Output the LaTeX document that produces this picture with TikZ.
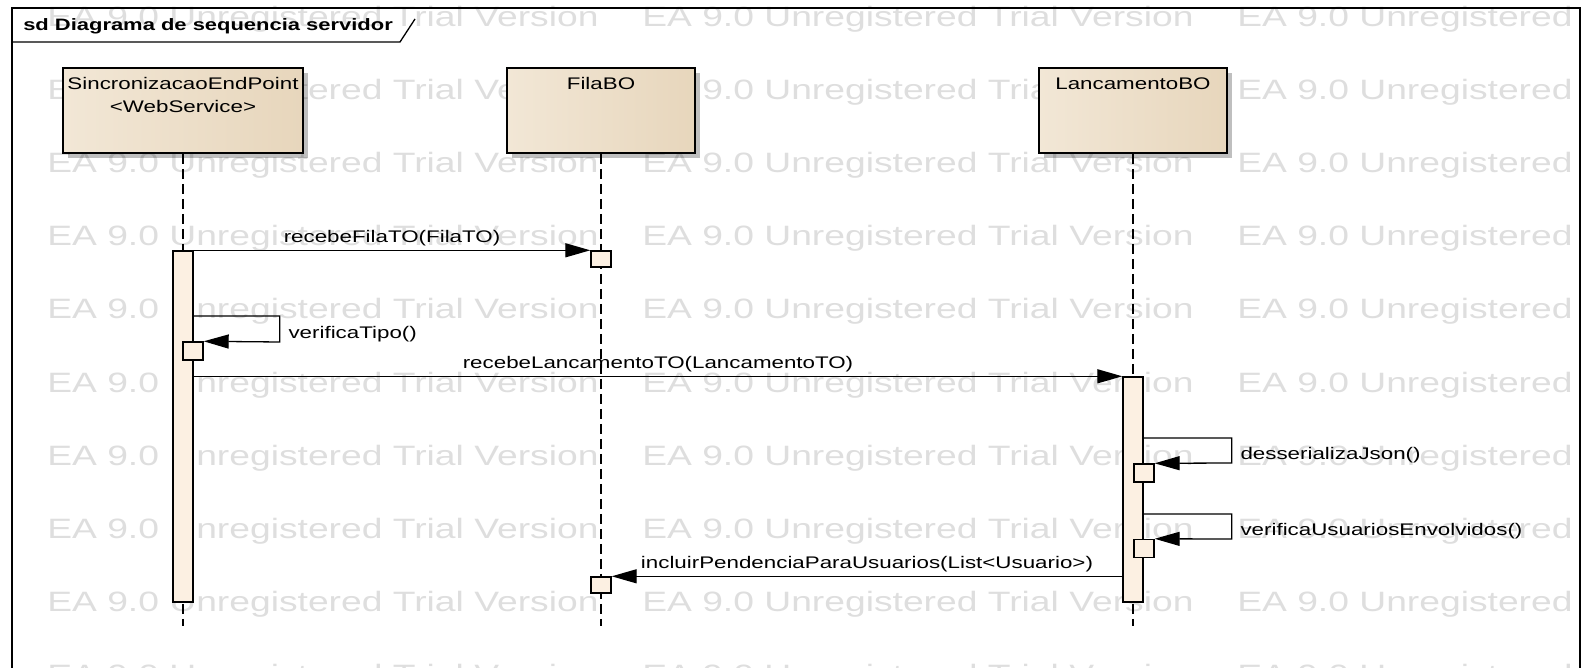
\documentclass[tikz,border=0pt]{standalone}
\usepackage{fontspec}
\setmainfont{Liberation Sans}
\usetikzlibrary{arrows.meta,positioning,shadows}
\definecolor{headL}{HTML}{F2E7D6}
\definecolor{headM}{HTML}{FCF6EE}
\definecolor{headR}{HTML}{E7D6BC}
\definecolor{actfill}{HTML}{FCF0E2}
\definecolor{trial}{HTML}{DEDEDE}
\begin{document}
\begin{tikzpicture}[x=1pt,y=-1pt,
  txt/.style={inner sep=0pt,xscale=1.33,font=\fontsize{16.8}{23}\selectfont},
  ttl/.style={inner sep=0pt,xscale=1.33,font=\fontsize{16.5}{18}\selectfont\bfseries},
  wmark/.style={inner sep=0pt,xscale=1.33,font=\fontsize{28}{30}\selectfont,text=trial},
  head/.style={draw,line width=1.8pt,minimum height=85pt,inner sep=0pt,
    left color=headL,middle color=headM,right color=headR,
    drop shadow={shadow xshift=5pt,shadow yshift=-5pt,opacity=0.25,fill=black}},
  bar/.style={draw,line width=1.4pt,fill=actfill,minimum width=20pt,inner sep=0pt},
  lifeline/.style={line width=1.3pt,dash pattern=on 10pt off 5pt},
  msg/.style={line width=1.3pt,-{Triangle[length=25pt,width=14pt]}},
  selflbl/.style={txt,anchor=base west,xshift=6pt,yshift=4pt}]
\useasboundingbox (0,0) rectangle (1588,668);
% watermark
\begin{scope}
\clip (0,0) rectangle (1581,668);
\foreach \r in {0,...,9}
  \foreach \c in {47,642,1237}
    \node[wmark,anchor=base west] at (\c,27+73*\r) {EA 9.0 Unregistered Trial Version};
\end{scope}
% frame
\draw[line width=1.3pt] (12,668) -- (12,8) -- (1580,8) -- (1580,668);
\draw[line width=1.3pt] (12,42) -- (400,42) -- (415,19);
\node[ttl,anchor=base west] (title) at (23,31) {sd Diagrama de sequencia servidor};
% lifeline heads
\node[head,minimum width=240pt] (sinc) at (183,110.5) {};
\node[txt,align=center,below=10pt of sinc.north] (sinctxt) {SincronizacaoEndPoint\\<WebService>};
\node[head,minimum width=188pt] (fila) at (601,110.5) {};
\node[txt,below=10pt of fila.north] (filatxt) {FilaBO};
\node[head,minimum width=188pt] (lanc) at (1133,110.5) {};
\node[txt,below=10pt of lanc.north] (lanctxt) {LancamentoBO};
\coordinate (sincend) at (183,626);
\coordinate (filaend) at (601,626);
\coordinate (lancend) at (1133,626);
\draw[lifeline] (sinc) -- (sincend);
\draw[lifeline] (fila) -- (filaend);
\draw[lifeline] (lanc) -- (lancend);
% activations
\node[bar,minimum height=351pt] (sincbar) at (183,426.5) {};
\node[bar,minimum height=18pt] (sincself) at (193,351) {};
\node[bar,minimum height=16pt] (filaA) at (601,259) {};
\node[bar,minimum height=16pt] (filaB) at (601,585) {};
\node[bar,minimum height=225pt] (lancbar) at (1133,489.5) {};
\node[bar,minimum height=18pt] (lancselfA) at (1144,473) {};
\node[bar,minimum height=18pt] (lancselfB) at (1144,548.5) {};
% messages
\draw[msg] (sincbar.north east) -- node[txt,above=4pt] {recebeFilaTO(FilaTO)} (filaA.north west);
\coordinate (tipoin) at (sincbar.east |- 0,316);
\draw[msg] (tipoin) -- ++(86,0) -- ++(0,26) node[selflbl] {verificaTipo()} -- (sincself.north east);
\draw[msg] (sincbar.east |- lancbar.north) -- node[txt,above=4pt] {recebeLancamentoTO(LancamentoTO)} (lancbar.north west);
\coordinate (jsonin) at (lancbar.east |- 0,438);
\draw[msg] (jsonin) -- ++(88,0) -- ++(0,25) node[selflbl] {desserializaJson()} -- (lancselfA.north east);
\coordinate (usrin) at (lancbar.east |- 0,514);
\draw[msg] (usrin) -- ++(88,0) -- ++(0,25) node[selflbl] {verificaUsuariosEnvolvidos()} -- (lancselfB.north east);
\draw[msg] (lancbar.west |- filaB.north) -- node[txt,above=4pt] {incluirPendenciaParaUsuarios(List<Usuario>)} (filaB.north east);
\end{tikzpicture}
\end{document}
